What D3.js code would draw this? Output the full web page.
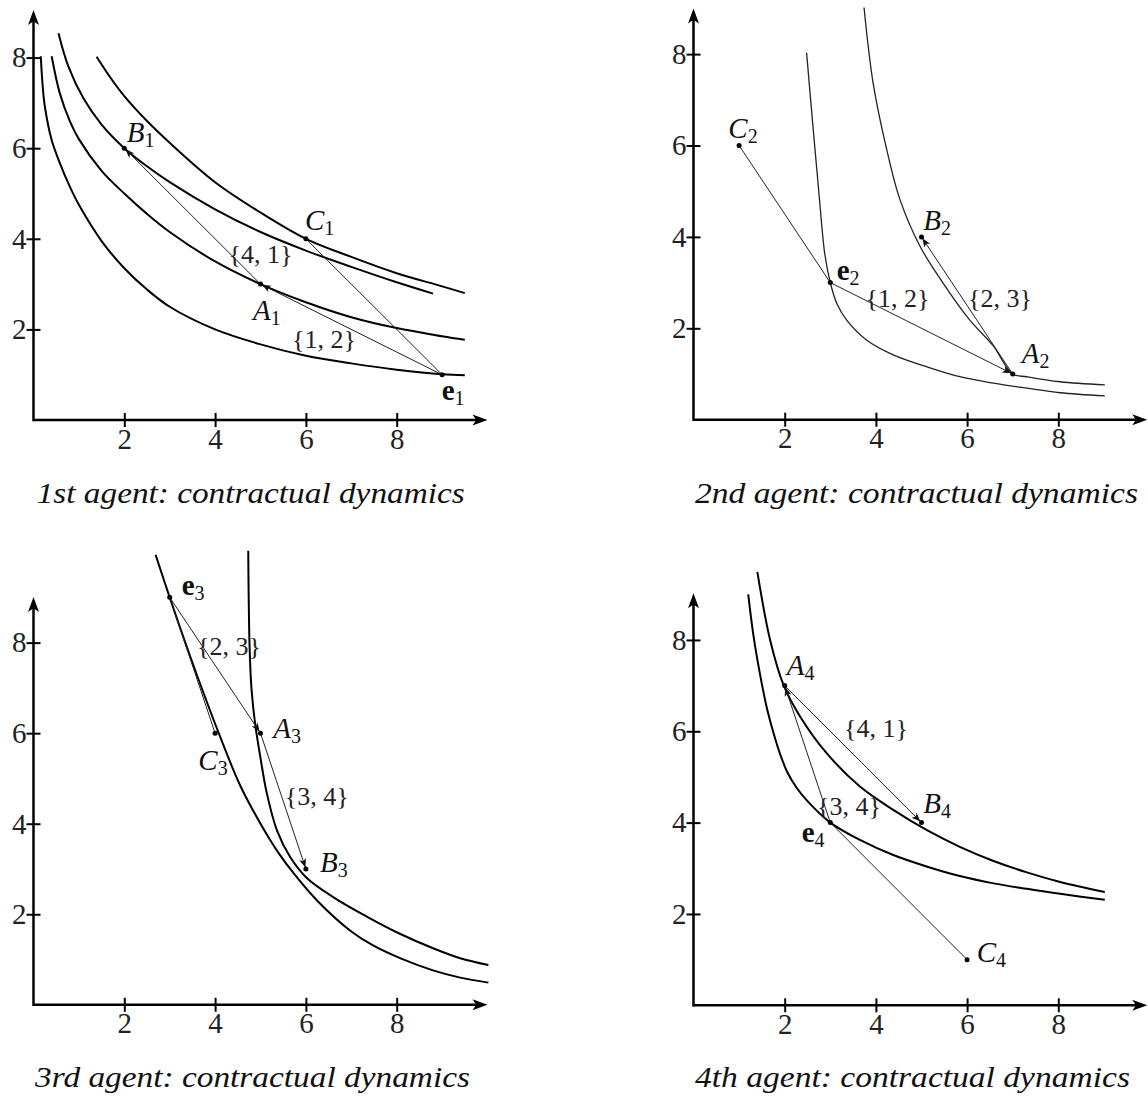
<!DOCTYPE html>
<html>
<head>
<meta charset="utf-8">
<script src="https://cdn.jsdelivr.net/npm/d3@7"></script>
<style>
  body { margin: 0; background: #fff; }
  svg { display: block; }
</style>
</head>
<body>
<svg width="1148" height="1100"></svg>
<script>
const xTicks = [2, 4, 6, 8]
const yTicks = [2, 4, 6, 8]
const captions = [
    '1st agent: contractual dynamics',
    '2nd agent: contractual dynamics',
    '3rd agent: contractual dynamics',
    '4th agent: contractual dynamics'
]

// agent 1: four indifference curves, points, moves
const agent1Curves = [
    [[0.16, 8.03], [0.2, 7.4], [0.25, 6.92], [0.4, 6.18], [0.58, 5.67], [0.8, 5.15], [1, 4.75], [1.5, 3.95], [2, 3.35], [2.5, 2.88], [3, 2.5], [4, 2.0], [5, 1.67], [6, 1.42], [7, 1.25], [8, 1.11], [9, 1.01], [9.5, 0.99]],
    [[0.4, 8.03], [0.58, 7.21], [0.8, 6.6], [1, 6.2], [1.5, 5.5], [2, 5.0], [2.5, 4.55], [3, 4.15], [4, 3.5], [5, 3.0], [6, 2.6], [7, 2.27], [8, 2.03], [9, 1.85], [9.5, 1.77]],
    [[0.55, 8.54], [0.77, 7.8], [1.1, 7.1], [1.5, 6.52], [2, 6.0], [2.5, 5.6], [3, 5.25], [4, 4.65], [5, 4.15], [6, 3.74], [7, 3.38], [8, 3.04], [8.8, 2.79]],
    [[1.39, 8.02], [1.7, 7.55], [2, 7.15], [2.5, 6.6], [3, 6.12], [4, 5.25], [5, 4.58], [6, 4.0], [7, 3.6], [8, 3.24], [9, 2.95], [9.5, 2.8]]
]
const agent1Points = [
    { id: 'e1', name: 'e', sub: '1', x: 9, y: 1 },
    { id: 'A1', name: 'A', sub: '1', x: 5, y: 3 },
    { id: 'B1', name: 'B', sub: '1', x: 2, y: 6 },
    { id: 'C1', name: 'C', sub: '1', x: 6, y: 4 }
]
const agent1Moves = [
    { from: 'e1', to: 'A1', pair: '{1, 2}', arrow: true },
    { from: 'A1', to: 'B1', pair: '{4, 1}', arrow: true },
    { from: 'e1', to: 'C1', pair: null, arrow: false }
]

// agent 2
const agent2Curves = [
    [[2.48, 8.03], [2.63, 6.3], [2.76, 4.85], [2.88, 3.62], [3.0, 3.0], [3.14, 2.55], [3.36, 2.18], [3.8, 1.74], [4.38, 1.42], [5.11, 1.16], [5.84, 0.94], [6.58, 0.8], [7.31, 0.69], [8.04, 0.59], [9.02, 0.52]],
    [[3.74, 9.02], [3.94, 7.36], [4.24, 5.9], [4.53, 4.81], [4.97, 3.79], [5.48, 2.98], [6.06, 2.18], [6.57, 1.62], [7.0, 1.0], [7.31, 0.94], [8.04, 0.83], [9.02, 0.76]]
]
const agent2Points = [
    { id: 'e2', name: 'e', sub: '2', x: 3, y: 3 },
    { id: 'A2', name: 'A', sub: '2', x: 7, y: 1 },
    { id: 'B2', name: 'B', sub: '2', x: 5, y: 4 },
    { id: 'C2', name: 'C', sub: '2', x: 1, y: 6 }
]
const agent2Moves = [
    { from: 'e2', to: 'A2', pair: '{1, 2}', arrow: true },
    { from: 'A2', to: 'B2', pair: '{2, 3}', arrow: true },
    { from: 'e2', to: 'C2', pair: null, arrow: false }
]

// agent 3
const agent3Curves = [
    [[2.69, 9.94], [3.0, 9.0], [3.45, 7.7], [4.1, 5.95], [4.55, 4.85], [5.0, 4.0], [5.4, 3.35], [5.75, 2.88], [6.25, 2.3], [7.0, 1.62], [7.5, 1.3], [8.1, 1.02], [8.8, 0.76], [9.4, 0.6], [10.02, 0.49]],
    [[4.73, 10.03], [4.74, 9.0], [4.76, 7.9], [4.8, 7.0], [4.88, 6.22], [5.0, 5.45], [5.14, 4.67], [5.36, 3.86], [5.65, 3.27], [6.02, 2.8], [6.6, 2.38], [7.34, 1.95], [8.07, 1.57], [8.8, 1.25], [9.4, 1.03], [10.02, 0.88]]
]
const agent3Points = [
    { id: 'e3', name: 'e', sub: '3', x: 3, y: 9 },
    { id: 'A3', name: 'A', sub: '3', x: 5, y: 6 },
    { id: 'B3', name: 'B', sub: '3', x: 6, y: 3 },
    { id: 'C3', name: 'C', sub: '3', x: 4, y: 6 }
]
const agent3Moves = [
    { from: 'e3', to: 'A3', pair: '{2, 3}', arrow: true },
    { from: 'A3', to: 'B3', pair: '{3, 4}', arrow: true },
    { from: 'e3', to: 'C3', pair: null, arrow: false }
]

// agent 4
const agent4Curves = [
    [[1.4, 9.49], [1.68, 8.0], [1.98, 7.0], [2.34, 6.32], [2.92, 5.52], [3.65, 4.79], [4.38, 4.28], [5.11, 3.84], [5.84, 3.47], [6.58, 3.16], [7.31, 2.91], [8.04, 2.7], [9.02, 2.48]],
    [[1.2, 9.0], [1.3, 8.2], [1.39, 7.63], [1.6, 6.55], [1.75, 5.98], [1.9, 5.5], [2.05, 5.12], [2.25, 4.78], [2.5, 4.47], [3.0, 4.0], [3.65, 3.62], [4.38, 3.29], [5.11, 3.04], [5.84, 2.83], [6.58, 2.67], [7.31, 2.55], [8.04, 2.44], [9.02, 2.31]]
]
const agent4Points = [
    { id: 'e4', name: 'e', sub: '4', x: 3, y: 4 },
    { id: 'A4', name: 'A', sub: '4', x: 2, y: 7 },
    { id: 'B4', name: 'B', sub: '4', x: 5, y: 4 },
    { id: 'C4', name: 'C', sub: '4', x: 6, y: 1 }
]
const agent4Moves = [
    { from: 'e4', to: 'A4', pair: '{3, 4}', arrow: true },
    { from: 'A4', to: 'B4', pair: '{4, 1}', arrow: true },
    { from: 'e4', to: 'C4', pair: null, arrow: false }
]

// layout of the four panels (pixels)
const layout = [
    { ox: 33.5, oy: 420, ux: 45.4, uy: 45.3, xEnd: 10, yEnd: 9.05, curveW: 2, curveColor: '#000',
      labels: { B1: [126.7, 141.7], C1: [305, 230], A1: [253, 320], e1: [441.7, 400], 'e1-A1': [324, 348], 'A1-B1': [260.5, 263] },
      caption: [36.7, 503, 428] },
    { ox: 693.5, oy: 419.7, ux: 45.6, uy: 45.7, xEnd: 9.95, yEnd: 9.0, curveW: 1.3, curveColor: '#222',
      labels: { C2: [728.3, 138.3], e2: [836.7, 280], B2: [923.3, 230], A2: [1021.7, 363.3], 'e2-A2': [897.5, 306.7], 'A2-B2': [1000, 306.7] },
      caption: [695, 503, 443] },
    { ox: 33.5, oy: 1004.8, ux: 45.4, uy: 45.27, xEnd: 10, yEnd: 9.01, curveW: 2, curveColor: '#000',
      labels: { e3: [181.7, 595], A3: [273.3, 738.3], C3: [198.3, 770], B3: [320, 871.7], 'e3-A3': [229, 655], 'A3-B3': [316.7, 805] },
      caption: [35, 1087, 435] },
    { ox: 693.5, oy: 1005.3, ux: 45.6, uy: 45.67, xEnd: 9.95, yEnd: 9.02, curveW: 2, curveColor: '#000',
      labels: { A4: [786.7, 675], B4: [923.3, 813.3], e4: [801.7, 841.7], C4: [976.7, 961.7], 'A4-B4': [876, 736.7], 'e4-A4': [849, 815] },
      caption: [695, 1087, 435] }
]

const agents = [
    { curves: agent1Curves, points: agent1Points, moves: agent1Moves },
    { curves: agent2Curves, points: agent2Points, moves: agent2Moves },
    { curves: agent3Curves, points: agent3Points, moves: agent3Moves },
    { curves: agent4Curves, points: agent4Points, moves: agent4Moves }
]

const serif = '"Liberation Serif", "DejaVu Serif", serif'
const svg = d3.select('svg')

function drawArrowHead(g, tip, from, len, half, color) {
    const dx = tip[0] - from[0], dy = tip[1] - from[1]
    const d = Math.hypot(dx, dy)
    const ux = dx / d, uy = dy / d
    const bx = tip[0] - ux * len, by = tip[1] - uy * len
    const nx = -uy, ny = ux
    const mx = tip[0] - ux * len * 0.75, my = tip[1] - uy * len * 0.75
    const path = d3.path()
    path.moveTo(tip[0], tip[1])
    path.lineTo(bx + nx * half, by + ny * half)
    path.lineTo(mx, my)
    path.lineTo(bx - nx * half, by - ny * half)
    path.closePath()
    g.append('path').attr('d', path.toString()).attr('fill', color)
}

function drawLabel(g, pos, name, sub) {
    const bold = name === 'e'
    const t = g.append('text')
        .attr('x', pos[0]).attr('y', pos[1])
        .style('font-family', serif)
        .style('font-size', '29px')
        .attr('fill', '#111')
    t.append('tspan').text(name)
        .style('font-style', bold ? 'normal' : 'italic')
        .style('font-weight', bold ? 'bold' : 'normal')
    t.append('tspan').text(sub).attr('dy', 5).style('font-size', '20px')
}

agents.forEach((agent, i) => {
    const L = layout[i]
    const x = d3.scaleLinear().domain([0, 10]).range([L.ox, L.ox + 10 * L.ux])
    const y = d3.scaleLinear().domain([0, 8]).range([L.oy, L.oy - 8 * L.uy])
    const g = svg.append('g')

    // indifference curves
    const line = d3.line().x(d => x(d[0])).y(d => y(d[1])).curve(d3.curveCatmullRom.alpha(0.5))
    agent.curves.forEach(c => {
        g.append('path').attr('d', line(c))
            .attr('fill', 'none')
            .attr('stroke', L.curveColor)
            .attr('stroke-width', L.curveW)
            .attr('stroke-linejoin', 'round')
    })

    // moves
    const byId = {}
    agent.points.forEach(p => { byId[p.id] = p })
    agent.moves.forEach(m => {
        const a = byId[m.from], b = byId[m.to]
        const p0 = [x(a.x), y(a.y)], p1 = [x(b.x), y(b.y)]
        let end = p1
        if (m.arrow) {
            const d = Math.hypot(p1[0] - p0[0], p1[1] - p0[1])
            end = [p1[0] - (p1[0] - p0[0]) / d * 1.5, p1[1] - (p1[1] - p0[1]) / d * 1.5]
        }
        g.append('line')
            .attr('x1', p0[0]).attr('y1', p0[1])
            .attr('x2', end[0]).attr('y2', end[1])
            .attr('stroke', '#222').attr('stroke-width', 1)
        if (m.arrow) drawArrowHead(g, end, p0, 9, 3.5, '#111')
        if (m.pair) {
            const pos = L.labels[m.from + '-' + m.to]
            g.append('text').attr('x', pos[0]).attr('y', pos[1])
                .attr('text-anchor', 'middle')
                .style('font-family', serif).style('font-size', '26px')
                .attr('fill', '#222')
                .text(m.pair)
        }
    })

    // points
    g.selectAll('circle.pt').data(agent.points).join('circle')
        .attr('class', 'pt')
        .attr('cx', d => x(d.x)).attr('cy', d => y(d.y))
        .attr('r', 2.5).attr('fill', '#000')
    agent.points.forEach(p => drawLabel(g, L.labels[p.id], p.name, p.sub))

    // axes
    const gx = g.append('g').attr('transform', `translate(0,${y(0)})`)
        .call(d3.axisBottom(x).tickValues(xTicks).tickSize(7).tickPadding(1))
    const gy = g.append('g').attr('transform', `translate(${x(0)},0)`)
        .call(d3.axisLeft(y).tickValues(yTicks).tickSize(7).tickPadding(0))
    gx.select('.domain').remove()
    gy.select('.domain').remove()
    gx.selectAll('.tick line').attr('y1', -7).attr('stroke', '#000').attr('stroke-width', 2)
    gy.selectAll('.tick line').attr('x1', 7).attr('stroke', '#000').attr('stroke-width', 2)
    g.selectAll('.tick text')
        .style('font-family', serif).style('font-size', '29px').attr('fill', '#222')

    const xTip = [x(L.xEnd), y(0)], yTip = [x(0), y(L.yEnd)]
    g.append('line').attr('x1', x(0)).attr('y1', y(0)).attr('x2', xTip[0] - 6).attr('y2', y(0))
        .attr('stroke', '#000').attr('stroke-width', 2.5)
    g.append('line').attr('x1', x(0)).attr('y1', y(0) + 1.25).attr('x2', x(0)).attr('y2', yTip[1] + 6)
        .attr('stroke', '#000').attr('stroke-width', 2.5)
    drawArrowHead(g, xTip, [x(0), y(0)], 15, 5.5, '#000')
    drawArrowHead(g, yTip, [x(0), y(0)], 15, 5.5, '#000')

    // caption
    const cap = L.caption
    g.append('text').attr('x', cap[0]).attr('y', cap[1])
        .attr('textLength', cap[2]).attr('lengthAdjust', 'spacingAndGlyphs')
        .style('font-family', serif).style('font-size', '29px').style('font-style', 'italic')
        .attr('fill', '#111')
        .text(captions[i])
})
</script>
</body>
</html>
